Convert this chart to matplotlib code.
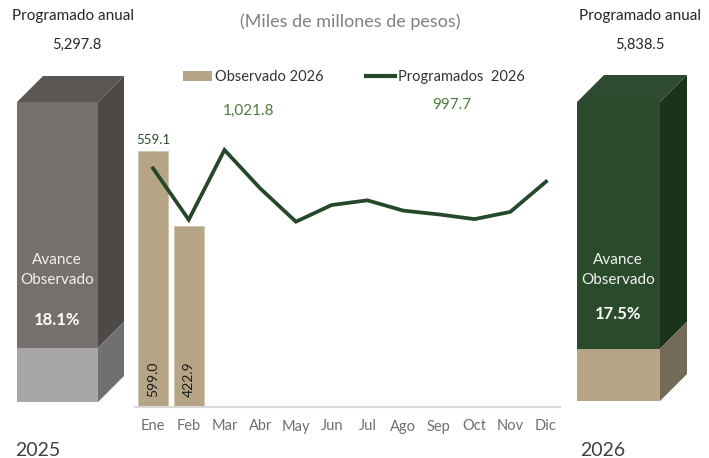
import matplotlib
matplotlib.use("Agg")
import matplotlib.pyplot as plt
from matplotlib.patches import Polygon, Patch
from matplotlib.lines import Line2D

# ---------------- data ----------------
months = ['Ene', 'Feb', 'Mar', 'Abr', 'May', 'Jun', 'Jul', 'Ago', 'Sep', 'Oct', 'Nov', 'Dic']
observado_2026 = [599.0, 422.9]
programado_2026 = [559.1, 438.6, 602.0, 512.0, 434.0, 473.0, 484.0, 460.0, 451.0, 440.0, 457.0, 527.8]
anual_2025 = 5297.8
anual_2026 = 5838.5
avance_2025 = 18.1
avance_2026 = 17.5
acumulado_obs = 1021.8
acumulado_prog = 997.7
years = ['2025', '2026']

FONT = ['Lato', 'DejaVu Sans']
plt.rcParams['font.family'] = FONT

W, H = 709, 458
fig = plt.figure(figsize=(W / 100, H / 100), dpi=100)

# background overlay axes in pixel coordinates
bg = fig.add_axes([0, 0, 1, 1])
bg.set_xlim(0, W)
bg.set_ylim(H, 0)
bg.axis('off')

# ---------------- main chart ----------------
x0_px, x1_px = 135, 560
base_px, top_px = 407, 100
ax = fig.add_axes([x0_px / W, (H - base_px) / H, (x1_px - x0_px) / W, (base_px - top_px) / H])
step = 35.73
ax.set_xlim((x0_px - 153) / step, (x1_px - 153) / step)
ax.set_ylim(0, (base_px - top_px) / 0.427)
ax.patch.set_alpha(0)
for s in ['top', 'right', 'left']:
    ax.spines[s].set_visible(False)
ax.spines['bottom'].set_color('#d9d9d9')
ax.spines['bottom'].set_linewidth(1.5)
ax.set_yticks([])
xs = list(range(len(months)))
ax.set_xticks(xs)
ax.set_xticklabels(months, fontsize=10.5, color='#6f6f6f')
ax.tick_params(axis='x', length=0, pad=9)

bar_color = '#b5a586'
line_color = '#26482a'
ax.bar(xs[:len(observado_2026)], observado_2026, width=0.84, color=bar_color,
       edgecolor='#cfc3ab', linewidth=0.6, zorder=2)
for i, v in enumerate(observado_2026):
    ax.annotate(f'{v:,.1f}', xy=(i, 0), xytext=(0, 7), textcoords='offset points',
                rotation=90, ha='center', va='bottom', fontsize=10, color='#1a1a1a', zorder=4)

ax.plot(xs, programado_2026, color=line_color, lw=2.7, zorder=3, solid_joinstyle='miter')

# leader line and label for Ene programmed value
ax.plot([0, 0], [observado_2026[0], programado_2026[0]], color='#a9a9a9', lw=0.8, zorder=2.5)
ax.annotate(f'{programado_2026[0]:,.1f}', xy=(0, observado_2026[0]), xytext=(0, 4),
            textcoords='offset points', ha='center', va='bottom', fontsize=9.5, color='#2d4a2d')

# cumulative labels
bg.text(249, 111, f'{acumulado_obs:,.1f}', ha='center', va='center',
        fontsize=11, color='#4f7a3c')
bg.text(452, 105, f'{acumulado_prog:,.1f}', ha='center', va='center',
        fontsize=11, color='#4f7a3c')

# legend
handles = [Patch(facecolor=bar_color, edgecolor='none', label='Observado 2026'),
           Line2D([0], [0], color=line_color, lw=3, label='Programados  2026')]
fig.legend(handles=handles, loc='center', bbox_to_anchor=(354 / W, 1 - 77 / H), ncol=2,
           frameon=False, fontsize=10.5, handlelength=2.0, handletextpad=0.2,
           columnspacing=2.9, labelcolor='#333333')

# title
bg.text(350, 22, '(Miles de millones de pesos)', ha='center', va='center', fontsize=13, color='#808080')

# ---------------- 3D boxes ----------------
def box(xl, xr, ytop, ybot, d, pct, c_front, c_side, c_top, c_front2, c_side2):
    h_obs = (ybot - ytop) * pct / 100.0
    ysplit = ybot - h_obs
    bg.add_patch(Polygon([(xl, ytop), (xl + d, ytop - d), (xr + d, ytop - d), (xr, ytop)],
                         closed=True, facecolor=c_top, edgecolor='none'))
    bg.add_patch(Polygon([(xl, ytop), (xr, ytop), (xr, ysplit), (xl, ysplit)],
                         closed=True, facecolor=c_front, edgecolor='none'))
    bg.add_patch(Polygon([(xr, ytop), (xr + d, ytop - d), (xr + d, ysplit - d), (xr, ysplit)],
                         closed=True, facecolor=c_side, edgecolor='none'))
    bg.add_patch(Polygon([(xl, ysplit), (xr, ysplit), (xr, ybot), (xl, ybot)],
                         closed=True, facecolor=c_front2, edgecolor='none'))
    bg.add_patch(Polygon([(xr, ysplit), (xr + d, ysplit - d), (xr + d, ybot - d), (xr, ybot)],
                         closed=True, facecolor=c_side2, edgecolor='none'))

box(17, 98, 102, 402, 26, avance_2025, '#75706d', '#4d4946', '#5a5654', '#a7a7a7', '#707070')
box(577, 660, 102, 401, 27, avance_2026, '#2a4a2c', '#1b321d', '#2e4b30', bar_color, '#736a58')

for xa, xv, cx, anual, pct, yr, xyr, ypct in [(73, 77, 57, anual_2025, avance_2025, years[0], 15, 320),
                                              (640, 640, 618, anual_2026, avance_2026, years[1], 580, 314)]:
    bg.text(xa, 16, 'Programado anual', ha='center', va='center', fontsize=11, color='#262626')
    bg.text(xv, 45, f'{anual:,.1f}', ha='center', va='center', fontsize=10.5, color='#262626')
    bg.text(cx, 260, 'Avance', ha='center', va='center', fontsize=11, color='#f2f2f2')
    bg.text(cx, 280, 'Observado', ha='center', va='center', fontsize=11, color='#f2f2f2')
    bg.text(cx, ypct, f'{pct:.1f}%', ha='center', va='center', fontsize=12,
            fontweight='bold', color='#ffffff')
    bg.text(xyr, 450, yr, ha='left', va='center', fontsize=14, color='#404040')

fig.savefig('out.png', dpi=100)
